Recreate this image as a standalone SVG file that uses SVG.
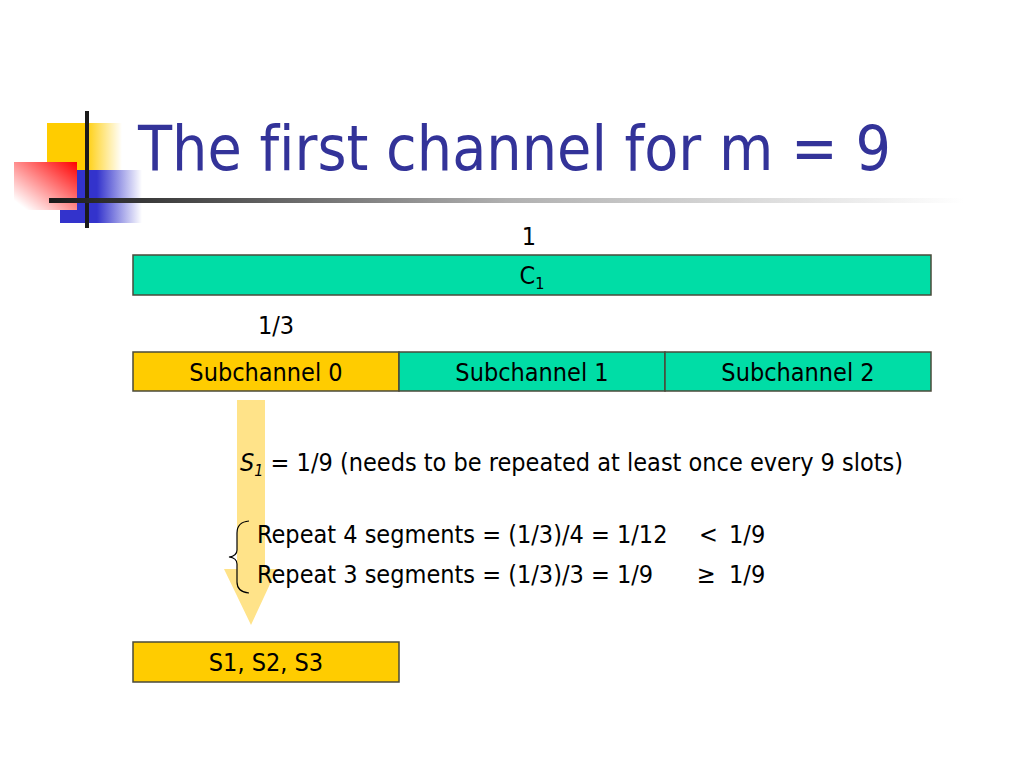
<svg xmlns="http://www.w3.org/2000/svg" width="1024" height="768" viewBox="0 0 1024 768">
<defs>
<linearGradient id="gy" x1="0" y1="0" x2="1" y2="0"><stop offset="0.5" stop-color="#FFCC00"/><stop offset="1" stop-color="#FFCC00" stop-opacity="0"/></linearGradient>
<linearGradient id="gb" x1="0" y1="0" x2="1" y2="0"><stop offset="0.45" stop-color="#3333CC"/><stop offset="1" stop-color="#3333CC" stop-opacity="0"/></linearGradient>
<linearGradient id="gr" x1="1" y1="0" x2="0" y2="1"><stop offset="0" stop-color="#FF0000"/><stop offset="0.9" stop-color="#FF0000" stop-opacity="0"/></linearGradient>
<linearGradient id="gl" x1="0" y1="0" x2="1" y2="0"><stop offset="0" stop-color="#1a1a1a"/><stop offset="0.5" stop-color="#b0b0b0"/><stop offset="1" stop-color="#ffffff"/></linearGradient>
<style>
text{font-family:"DejaVu Sans Condensed","DejaVu Sans",sans-serif;font-size:25px;fill:#000;font-variant-ligatures:none}
.title{font-size:62px;fill:#333399}
.box{stroke:#4a4a3a;stroke-width:1.5}
.teal{fill:#00DDA6}
.yel{fill:#FFCC00}
</style>
</defs>
<g id="logo">
<rect x="47" y="123" width="75" height="47" fill="url(#gy)"/>
<rect x="60" y="170" width="82" height="53" fill="url(#gb)"/>
<rect x="14" y="162" width="63" height="48" fill="#ffffff"/>
<rect x="14" y="162" width="63" height="48" fill="url(#gr)"/>
<rect x="85" y="111" width="4" height="117" fill="#1a1a1a"/>
<rect x="49" y="198" width="915" height="5" fill="url(#gl)"/>
</g>
<text class="title" x="138" y="170">The first channel for m = 9</text>
<g id="arrow"><polygon points="237,400 265,400 265,569 277,569 251,625 224,569 237,569" fill="#FFE389"/></g>
<g id="c1"><rect class="box teal" x="133" y="255" width="798" height="40"/><text x="532" y="284" text-anchor="middle">C<tspan font-size="16" dy="5">1</tspan></text></g>
<text x="529" y="245" text-anchor="middle">1</text>
<text x="276" y="334" text-anchor="middle">1/3</text>
<g id="sub0"><rect class="box yel" x="133" y="352" width="266" height="39"/><text x="266" y="381" text-anchor="middle">Subchannel 0</text></g>
<g id="sub1"><rect class="box teal" x="399" y="352" width="266" height="39"/><text x="532" y="381" text-anchor="middle">Subchannel 1</text></g>
<g id="sub2"><rect class="box teal" x="665" y="352" width="266" height="39"/><text x="798" y="381" text-anchor="middle">Subchannel 2</text></g>
<text x="240" y="471"><tspan font-style="italic">S</tspan><tspan font-style="italic" font-size="16" dy="5">1</tspan><tspan dy="-5"> = 1/9 (needs to be repeated at least once every 9 slots)</tspan></text>
<path d="M249,521 Q237,522 237,533 L237,550 Q237,556 229,557 Q237,558 237,564 L237,582 Q237,592 249,593" fill="none" stroke="#000" stroke-width="1.2"/>
<text x="257" y="543">Repeat 4 segments = (1/3)/4 = 1/12<tspan x="699">&lt;</tspan><tspan x="729">1/9</tspan></text>
<text x="257" y="583">Repeat 3 segments = (1/3)/3 = 1/9<tspan x="697">≥</tspan><tspan x="729">1/9</tspan></text>
<g id="s123"><rect class="box yel" x="133" y="642" width="266" height="40"/><text x="266" y="671" text-anchor="middle">S1, S2, S3</text></g>
</svg>
